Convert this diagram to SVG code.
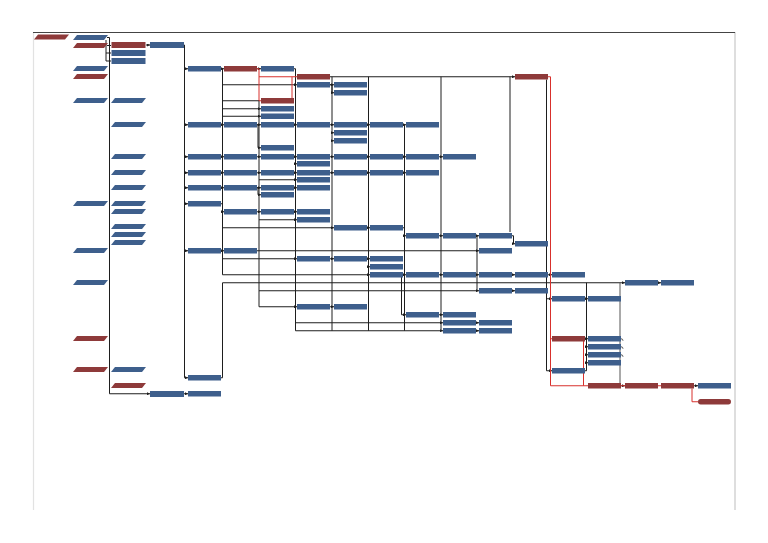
<svg xmlns="http://www.w3.org/2000/svg" xmlns:xlink="http://www.w3.org/1999/xlink" width="768" height="543" viewBox="0 0 768 543">
<defs>
<style>
.b{fill:#3e5f8c}
.r{fill:#8e3a3a}
.c path{fill:none;stroke:#1e1e1e;stroke-width:1}
.c path.rd{stroke:#d8302c}
.c path.g{stroke:#555}
.a{marker-end:url(#ar)}
</style>
<marker id="ar" markerUnits="userSpaceOnUse" markerWidth="3" markerHeight="3" refX="3" refY="1.5" orient="auto"><path d="M0,0L3,1.5L0,3z" fill="#1e1e1e"/></marker>
<polygon id="pg" points="4,0 35,0 31,5 0,5"/>
<rect id="bx" width="33" height="5.5"/>
<rect id="bw" width="34" height="6"/>
</defs>
<rect width="768" height="543" fill="#fff"/>
<g id="frame" fill="none">
<path d="M33.5,32 V510" stroke="#e2e2e2" stroke-width="1.2"/>
<path d="M735,32 V510" stroke="#c8c8c8" stroke-width="1.2"/>
<path d="M33,32.5 H735" stroke="#444" stroke-width="1.2"/>
</g>
<g id="connectors" class="c">
<!-- trunks -->
<path d="M107,37.5 H109.5 V393.75 H150" class="a"/>
<path d="M106,40 V61"/>
<path d="M107,45.5 H111"/>
<path d="M106,53 H111"/>
<path d="M106,61 H111"/>
<path d="M183,45 H184.5 V377.75 H188" class="a"/>
<path d="M184.5,68.75 H188" class="a"/>
<path d="M184.5,124.75 H188" class="a"/>
<path d="M184.5,156.75 H188" class="a"/>
<path d="M184.5,172.75 H188" class="a"/>
<path d="M184.5,187.75 H188" class="a"/>
<path d="M184.5,203.75 H188" class="a"/>
<path d="M184.5,250.75 H188" class="a"/>
<path d="M222.5,68.75 V274.75 H370" class="a"/>
<path d="M222.5,84.75 H297" class="a"/>
<path d="M222.5,100.75 H259"/>
<path d="M222.5,108.75 H261" class="a"/>
<path d="M222.5,116.25 H261" class="a"/>
<path d="M221,203.75 H222.5 M222.5,211.75 H224" class="a"/>
<path d="M222.5,227.75 H334" class="a"/>
<path d="M222.5,258.75 H297" class="a"/>
<path d="M257,250.75 H479" class="a"/>
<path d="M259,100 V306.75 H297" class="a"/>
<path d="M257,124.75 H258 V147.75 H261" class="a"/>
<path d="M259,179.75 H297" class="a"/>
<path d="M257,187.75 H258 V194.75 H261" class="a"/>
<path d="M259,219.75 H297" class="a"/>
<path d="M259,290.75 H479" class="a"/>
<path d="M294,68.75 H295.5 V330.75 H443" class="a"/>
<path d="M295.5,322.75 H443" class="a"/>
<path d="M294,156.75 H295.5 V163.75 H297" class="a"/>
<path d="M330,76.75 H515" class="a"/>
<path d="M332,76.75 V330.75"/>
<path d="M368.5,76.75 V330.75"/>
<path d="M441,76.75 V330.75"/>
<path d="M510,76.75 V232"/>
<path d="M404.5,124.75 V330.75"/>
<path d="M330,84.75 H332 V92.75 H334" class="a"/>
<path d="M332,132.75 H334" class="a"/>
<path d="M332,140.75 H334" class="a"/>
<path d="M367,258.75 H368.5 V266.75 H370" class="a"/>
<path d="M403,227.75 H404.5 V235.75 H406" class="a"/>
<path d="M401.5,277 V314.75 H406" class="a"/>
<path d="M477,235.75 V290.75"/>
<path d="M512,235.75 H513.5 V243.75 H515" class="a"/>
<path d="M546.5,79.5 V370.75 H552" class="a"/>
<path d="M546.5,298.75 H552" class="a"/>
<path d="M221,377.75 H222.5 V282.75 H625" class="a"/>
<path d="M585,370.75 H586.5 V282.75"/>
<path d="M586.5,346.75 H588" class="a"/>
<path d="M586.5,354.75 H588" class="a"/>
<path d="M586.5,362.75 H588" class="a"/>
<path d="M620,282.75 V385.75 H625" class="g a"/>
<path d="M621,338.75 q2,0 2,2 M621,346.75 q2,0 2,2 M621,354.75 q2,0 2,2" class="g"/>
<!-- adjacent links -->
<path d="M146,45 H150" class="a"/>
<path d="M221,68.75 H224" class="a"/>
<path d="M257,68.75 H261" class="a"/>
<path d="M330,84.75 H334" class="a"/>
<path d="M221,124.75 H224" class="a"/>
<path d="M257,124.75 H261" class="a"/>
<path d="M294,124.75 H297" class="a"/>
<path d="M330,124.75 H334" class="a"/>
<path d="M367,124.75 H370" class="a"/>
<path d="M403,124.75 H406" class="a"/>
<path d="M221,156.75 H224" class="a"/>
<path d="M257,156.75 H261" class="a"/>
<path d="M294,156.75 H297" class="a"/>
<path d="M330,156.75 H334" class="a"/>
<path d="M367,156.75 H370" class="a"/>
<path d="M403,156.75 H406" class="a"/>
<path d="M439,156.75 H443" class="a"/>
<path d="M221,172.75 H224" class="a"/>
<path d="M257,172.75 H261" class="a"/>
<path d="M294,172.75 H297" class="a"/>
<path d="M330,172.75 H334" class="a"/>
<path d="M367,172.75 H370" class="a"/>
<path d="M403,172.75 H406" class="a"/>
<path d="M221,187.75 H224" class="a"/>
<path d="M257,187.75 H261" class="a"/>
<path d="M294,187.75 H297" class="a"/>
<path d="M257,211.75 H261" class="a"/>
<path d="M294,211.75 H297" class="a"/>
<path d="M367,227.75 H370" class="a"/>
<path d="M439,235.75 H443" class="a"/>
<path d="M476,235.75 H479" class="a"/>
<path d="M221,250.75 H224" class="a"/>
<path d="M330,258.75 H334" class="a"/>
<path d="M367,258.75 H370" class="a"/>
<path d="M403,274.75 H406" class="a"/>
<path d="M439,274.75 H443" class="a"/>
<path d="M476,274.75 H479" class="a"/>
<path d="M512,274.75 H515" class="a"/>
<path d="M548,274.75 H552" class="a"/>
<path d="M658,282.75 H661" class="a"/>
<path d="M512,290.75 H515" class="a"/>
<path d="M585,298.75 H588" class="a"/>
<path d="M330,306.75 H334" class="a"/>
<path d="M439,314.75 H443" class="a"/>
<path d="M476,322.75 H479" class="a"/>
<path d="M476,330.75 H479" class="a"/>
<path d="M585,338.75 H588" class="a"/>
<path d="M694,385.75 H698" class="a"/>
<path d="M183,393.75 H188" class="a"/>
<!-- critical path -->
<path d="M257,68.75 H259 V100.75 H261" class="rd"/>
<path d="M259,76.75 H297" class="rd"/>
<path d="M292,98 V76.75" class="rd"/>
<path d="M548,76.75 H550.5 V385.75 H588" class="rd"/>
<path d="M550.5,338.75 H552" class="rd"/>
<path d="M585,339.5 H583.5 V385.75" class="rd"/>
<path d="M621,385.75 H625" class="rd"/>
<path d="M658,385.75 H661" class="rd"/>
<path d="M692,388.5 V401.75 H698" class="rd"/>
</g>
<g id="nodes">
<g id="n0-34"><use xlink:href="#pg" x="34" y="34.5" class="r"/></g>
<g id="n1-35"><use xlink:href="#pg" x="73" y="35" class="b"/></g>
<g id="n1-43"><use xlink:href="#pg" x="73" y="43" class="r"/></g>
<g id="n1-66"><use xlink:href="#pg" x="73" y="66" class="b"/></g>
<g id="n1-74"><use xlink:href="#pg" x="73" y="74" class="r"/></g>
<g id="n1-98"><use xlink:href="#pg" x="73" y="98" class="b"/></g>
<g id="n1-201"><use xlink:href="#pg" x="73" y="201" class="b"/></g>
<g id="n1-248"><use xlink:href="#pg" x="73" y="248" class="b"/></g>
<g id="n1-280"><use xlink:href="#pg" x="73" y="280" class="b"/></g>
<g id="n1-336"><use xlink:href="#pg" x="73" y="336" class="r"/></g>
<g id="n1-367"><use xlink:href="#pg" x="73" y="367" class="r"/></g>
<g id="n2-42"><use xlink:href="#bw" x="111.5" y="42" class="r"/></g>
<g id="n2-50"><use xlink:href="#bw" x="111.5" y="50" class="b"/></g>
<g id="n2-58"><use xlink:href="#bw" x="111.5" y="58" class="b"/></g>
<g id="n2-98"><use xlink:href="#pg" x="111" y="98" class="b"/></g>
<g id="n2-122"><use xlink:href="#pg" x="111" y="122" class="b"/></g>
<g id="n2-154"><use xlink:href="#pg" x="111" y="154" class="b"/></g>
<g id="n2-170"><use xlink:href="#pg" x="111" y="170" class="b"/></g>
<g id="n2-185"><use xlink:href="#pg" x="111" y="185" class="b"/></g>
<g id="n2-201"><use xlink:href="#pg" x="111" y="201" class="b"/></g>
<g id="n2-209"><use xlink:href="#pg" x="111" y="209" class="b"/></g>
<g id="n2-224"><use xlink:href="#pg" x="111" y="224" class="b"/></g>
<g id="n2-232"><use xlink:href="#pg" x="111" y="232" class="b"/></g>
<g id="n2-240"><use xlink:href="#pg" x="111" y="240" class="b"/></g>
<g id="n2-367"><use xlink:href="#pg" x="111" y="367" class="b"/></g>
<g id="n2-383"><use xlink:href="#pg" x="111" y="383" class="r"/></g>
<g id="n3-42"><use xlink:href="#bw" x="150" y="42" class="b"/></g>
<g id="n3-391"><use xlink:href="#bw" x="150" y="391" class="b"/></g>
<g id="n4-66"><use xlink:href="#bx" x="188" y="66" class="b"/></g>
<g id="n4-122"><use xlink:href="#bx" x="188" y="122" class="b"/></g>
<g id="n4-154"><use xlink:href="#bx" x="188" y="154" class="b"/></g>
<g id="n4-170"><use xlink:href="#bx" x="188" y="170" class="b"/></g>
<g id="n4-185"><use xlink:href="#bx" x="188" y="185" class="b"/></g>
<g id="n4-201"><use xlink:href="#bx" x="188" y="201" class="b"/></g>
<g id="n4-248"><use xlink:href="#bx" x="188" y="248" class="b"/></g>
<g id="n4-375"><use xlink:href="#bx" x="188" y="375" class="b"/></g>
<g id="n4-391"><use xlink:href="#bx" x="188" y="391" class="b"/></g>
<g id="n5-66"><use xlink:href="#bx" x="224" y="66" class="r"/></g>
<g id="n5-122"><use xlink:href="#bx" x="224" y="122" class="b"/></g>
<g id="n5-154"><use xlink:href="#bx" x="224" y="154" class="b"/></g>
<g id="n5-170"><use xlink:href="#bx" x="224" y="170" class="b"/></g>
<g id="n5-185"><use xlink:href="#bx" x="224" y="185" class="b"/></g>
<g id="n5-209"><use xlink:href="#bx" x="224" y="209" class="b"/></g>
<g id="n5-248"><use xlink:href="#bx" x="224" y="248" class="b"/></g>
<g id="n6-66"><use xlink:href="#bx" x="261" y="66" class="b"/></g>
<g id="n6-98"><use xlink:href="#bx" x="261" y="98" class="r"/></g>
<g id="n6-106"><use xlink:href="#bx" x="261" y="106" class="b"/></g>
<g id="n6-113"><use xlink:href="#bx" x="261" y="113.5" class="b"/></g>
<g id="n6-122"><use xlink:href="#bx" x="261" y="122" class="b"/></g>
<g id="n6-145"><use xlink:href="#bx" x="261" y="145" class="b"/></g>
<g id="n6-154"><use xlink:href="#bx" x="261" y="154" class="b"/></g>
<g id="n6-170"><use xlink:href="#bx" x="261" y="170" class="b"/></g>
<g id="n6-185"><use xlink:href="#bx" x="261" y="185" class="b"/></g>
<g id="n6-192"><use xlink:href="#bx" x="261" y="192" class="b"/></g>
<g id="n6-209"><use xlink:href="#bx" x="261" y="209" class="b"/></g>
<g id="n7-74"><use xlink:href="#bx" x="297" y="74" class="r"/></g>
<g id="n7-82"><use xlink:href="#bx" x="297" y="82" class="b"/></g>
<g id="n7-122"><use xlink:href="#bx" x="297" y="122" class="b"/></g>
<g id="n7-154"><use xlink:href="#bx" x="297" y="154" class="b"/></g>
<g id="n7-161"><use xlink:href="#bx" x="297" y="161" class="b"/></g>
<g id="n7-170"><use xlink:href="#bx" x="297" y="170" class="b"/></g>
<g id="n7-177"><use xlink:href="#bx" x="297" y="177" class="b"/></g>
<g id="n7-185"><use xlink:href="#bx" x="297" y="185" class="b"/></g>
<g id="n7-209"><use xlink:href="#bx" x="297" y="209" class="b"/></g>
<g id="n7-217"><use xlink:href="#bx" x="297" y="217" class="b"/></g>
<g id="n7-256"><use xlink:href="#bx" x="297" y="256" class="b"/></g>
<g id="n7-304"><use xlink:href="#bx" x="297" y="304" class="b"/></g>
<g id="n8-82"><use xlink:href="#bx" x="334" y="82" class="b"/></g>
<g id="n8-90"><use xlink:href="#bx" x="334" y="90" class="b"/></g>
<g id="n8-122"><use xlink:href="#bx" x="334" y="122" class="b"/></g>
<g id="n8-130"><use xlink:href="#bx" x="334" y="130" class="b"/></g>
<g id="n8-138"><use xlink:href="#bx" x="334" y="138" class="b"/></g>
<g id="n8-154"><use xlink:href="#bx" x="334" y="154" class="b"/></g>
<g id="n8-170"><use xlink:href="#bx" x="334" y="170" class="b"/></g>
<g id="n8-225"><use xlink:href="#bx" x="334" y="225" class="b"/></g>
<g id="n8-256"><use xlink:href="#bx" x="334" y="256" class="b"/></g>
<g id="n8-304"><use xlink:href="#bx" x="334" y="304" class="b"/></g>
<g id="n9-122"><use xlink:href="#bx" x="370" y="122" class="b"/></g>
<g id="n9-154"><use xlink:href="#bx" x="370" y="154" class="b"/></g>
<g id="n9-170"><use xlink:href="#bx" x="370" y="170" class="b"/></g>
<g id="n9-225"><use xlink:href="#bx" x="370" y="225" class="b"/></g>
<g id="n9-256"><use xlink:href="#bx" x="370" y="256" class="b"/></g>
<g id="n9-264"><use xlink:href="#bx" x="370" y="264" class="b"/></g>
<g id="n9-272"><use xlink:href="#bx" x="370" y="272" class="b"/></g>
<g id="n10-122"><use xlink:href="#bx" x="406" y="122" class="b"/></g>
<g id="n10-154"><use xlink:href="#bx" x="406" y="154" class="b"/></g>
<g id="n10-170"><use xlink:href="#bx" x="406" y="170" class="b"/></g>
<g id="n10-233"><use xlink:href="#bx" x="406" y="233" class="b"/></g>
<g id="n10-272"><use xlink:href="#bx" x="406" y="272" class="b"/></g>
<g id="n10-312"><use xlink:href="#bx" x="406" y="312" class="b"/></g>
<g id="n11-154"><use xlink:href="#bx" x="443" y="154" class="b"/></g>
<g id="n11-233"><use xlink:href="#bx" x="443" y="233" class="b"/></g>
<g id="n11-272"><use xlink:href="#bx" x="443" y="272" class="b"/></g>
<g id="n11-312"><use xlink:href="#bx" x="443" y="312" class="b"/></g>
<g id="n11-320"><use xlink:href="#bx" x="443" y="320" class="b"/></g>
<g id="n11-328"><use xlink:href="#bx" x="443" y="328" class="b"/></g>
<g id="n12-233"><use xlink:href="#bx" x="479" y="233" class="b"/></g>
<g id="n12-248"><use xlink:href="#bx" x="479" y="248" class="b"/></g>
<g id="n12-272"><use xlink:href="#bx" x="479" y="272" class="b"/></g>
<g id="n12-288"><use xlink:href="#bx" x="479" y="288" class="b"/></g>
<g id="n12-320"><use xlink:href="#bx" x="479" y="320" class="b"/></g>
<g id="n12-328"><use xlink:href="#bx" x="479" y="328" class="b"/></g>
<g id="n13-74"><use xlink:href="#bx" x="515" y="74" class="r"/></g>
<g id="n13-241"><use xlink:href="#bx" x="515" y="241" class="b"/></g>
<g id="n13-272"><use xlink:href="#bx" x="515" y="272" class="b"/></g>
<g id="n13-288"><use xlink:href="#bx" x="515" y="288" class="b"/></g>
<g id="n14-272"><use xlink:href="#bx" x="552" y="272" class="b"/></g>
<g id="n14-296"><use xlink:href="#bx" x="552" y="296" class="b"/></g>
<g id="n14-336"><use xlink:href="#bx" x="552" y="336" class="r"/></g>
<g id="n14-368"><use xlink:href="#bx" x="552" y="368" class="b"/></g>
<g id="n15-296"><use xlink:href="#bx" x="588" y="296" class="b"/></g>
<g id="n15-336"><use xlink:href="#bx" x="588" y="336" class="b"/></g>
<g id="n15-344"><use xlink:href="#bx" x="588" y="344" class="b"/></g>
<g id="n15-352"><use xlink:href="#bx" x="588" y="352" class="b"/></g>
<g id="n15-360"><use xlink:href="#bx" x="588" y="360" class="b"/></g>
<g id="n15-383"><use xlink:href="#bx" x="588" y="383" class="r"/></g>
<g id="n16-280"><use xlink:href="#bx" x="625" y="280" class="b"/></g>
<g id="n16-383"><use xlink:href="#bx" x="625" y="383" class="r"/></g>
<g id="n17-280"><use xlink:href="#bx" x="661" y="280" class="b"/></g>
<g id="n17-383"><use xlink:href="#bx" x="661" y="383" class="r"/></g>
<g id="n18-383"><use xlink:href="#bx" x="698" y="383" class="b"/></g>
<g id="n18-399"><rect x="698" y="399" width="33" height="5.5" rx="2.7" class="r"/></g>
</g>
</svg>
